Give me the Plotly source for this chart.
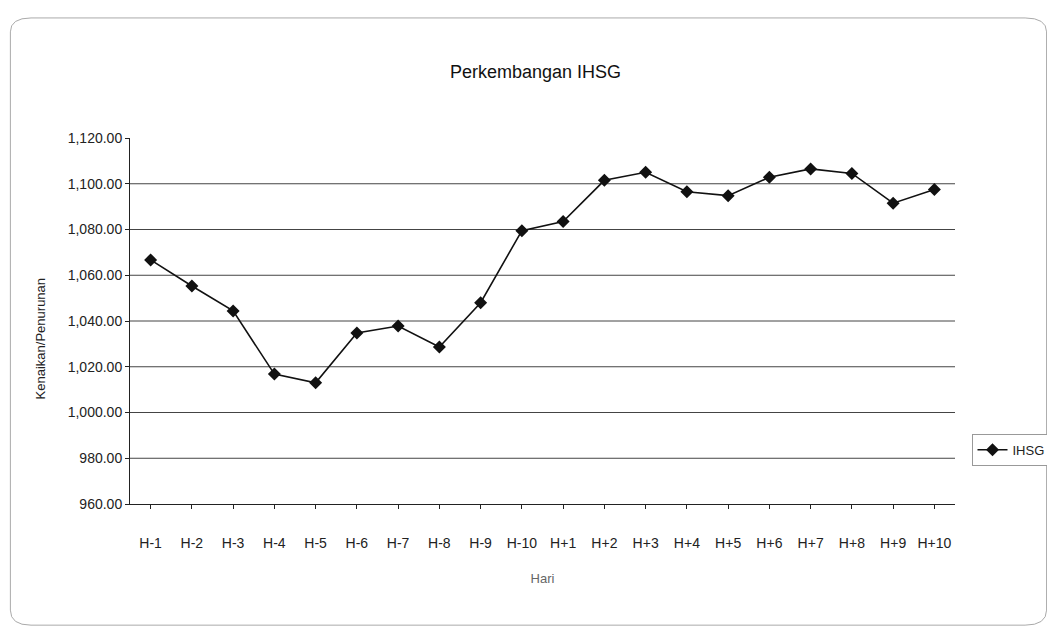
import plotly.graph_objects as go

categories = ["H-1", "H-2", "H-3", "H-4", "H-5", "H-6", "H-7", "H-8", "H-9", "H-10",
              "H+1", "H+2", "H+3", "H+4", "H+5", "H+6", "H+7", "H+8", "H+9", "H+10"]
ihsg = [1066.7, 1055.3, 1044.4, 1016.8, 1013.0, 1034.8, 1037.8, 1028.6, 1048.0, 1079.5,
        1083.5, 1101.5, 1105.0, 1096.5, 1094.8, 1102.8, 1106.5, 1104.5, 1091.5, 1097.5]
y_ticks = [960, 980, 1000, 1020, 1040, 1060, 1080, 1100, 1120]

FONT = "Liberation Sans Narrow, Liberation Sans, Arial, sans-serif"

fig = go.Figure()
fig.add_trace(go.Scatter(
    x=categories, y=ihsg, mode="lines+markers", name="IHSG",
    line=dict(color="#111111", width=1.6),
    marker=dict(symbol="diamond", size=10, color="#111111"),
))

fig.update_layout(
    width=1055, height=631,
    paper_bgcolor="white", plot_bgcolor="white",
    margin=dict(l=122, r=102, t=130, b=135),
    font=dict(family=FONT, size=13, color="#222222"),
    title=dict(text="Perkembangan IHSG", x=0.5, xanchor="center", y=0.899, yanchor="middle",
               font=dict(family=FONT, size=18, color="#111111")),
    showlegend=True,
    legend=dict(x=1.02, y=0.148, xanchor="left", yanchor="middle",
                bordercolor="#999999", borderwidth=1, bgcolor="white",
                font=dict(family=FONT, size=13, color="#222222")),
    xaxis=dict(
        type="category", range=[-0.5, 19.5],
        showgrid=False, showline=True, linecolor="#222222", linewidth=1,
        ticks="outside", ticklen=4, tickcolor="#222222",
        ticklabelstandoff=22,
        tickfont=dict(family=FONT, size=14, color="#222222"),
        title=dict(text="Hari", font=dict(family=FONT, size=13, color="#666666"), standoff=24),
    ),
    yaxis=dict(
        range=[960, 1120], tickvals=y_ticks, tickformat=",.2f",
        showgrid=False,
        showline=True, linecolor="#222222", linewidth=1,
        ticks="outside", ticklen=4, tickcolor="#222222",
        tickfont=dict(family=FONT, size=14, color="#222222"),
        zeroline=False,
    ),
)

fig.add_annotation(text="Kenaikan/Penurunan", xref="paper", yref="paper",
                   x=-0.109, y=0.45, textangle=-90, showarrow=False,
                   xanchor="center", yanchor="middle",
                   font=dict(family=FONT, size=13, color="#222222"))

# horizontal gridlines (Excel style: none at the top tick, axis line at the bottom)
for v in y_ticks[1:-1]:
    fig.add_shape(type="line", xref="paper", yref="y", x0=0, x1=1, y0=v, y1=v,
                  line=dict(color="#444444", width=1), layer="below")

# outer rounded chart border
fig.add_shape(type="path", xref="paper", yref="paper",
              path="M -0.12 1.328 L 1.085 1.328 Q 1.111 1.328 1.111 1.29 L 1.111 -0.29 Q 1.111 -0.331 1.085 -0.331 "
                   "L -0.12 -0.331 Q -0.145 -0.331 -0.145 -0.29 L -0.145 1.29 Q -0.145 1.328 -0.12 1.328 Z",
              line=dict(color="#aaaaaa", width=1))

fig.write_html("out.html")
